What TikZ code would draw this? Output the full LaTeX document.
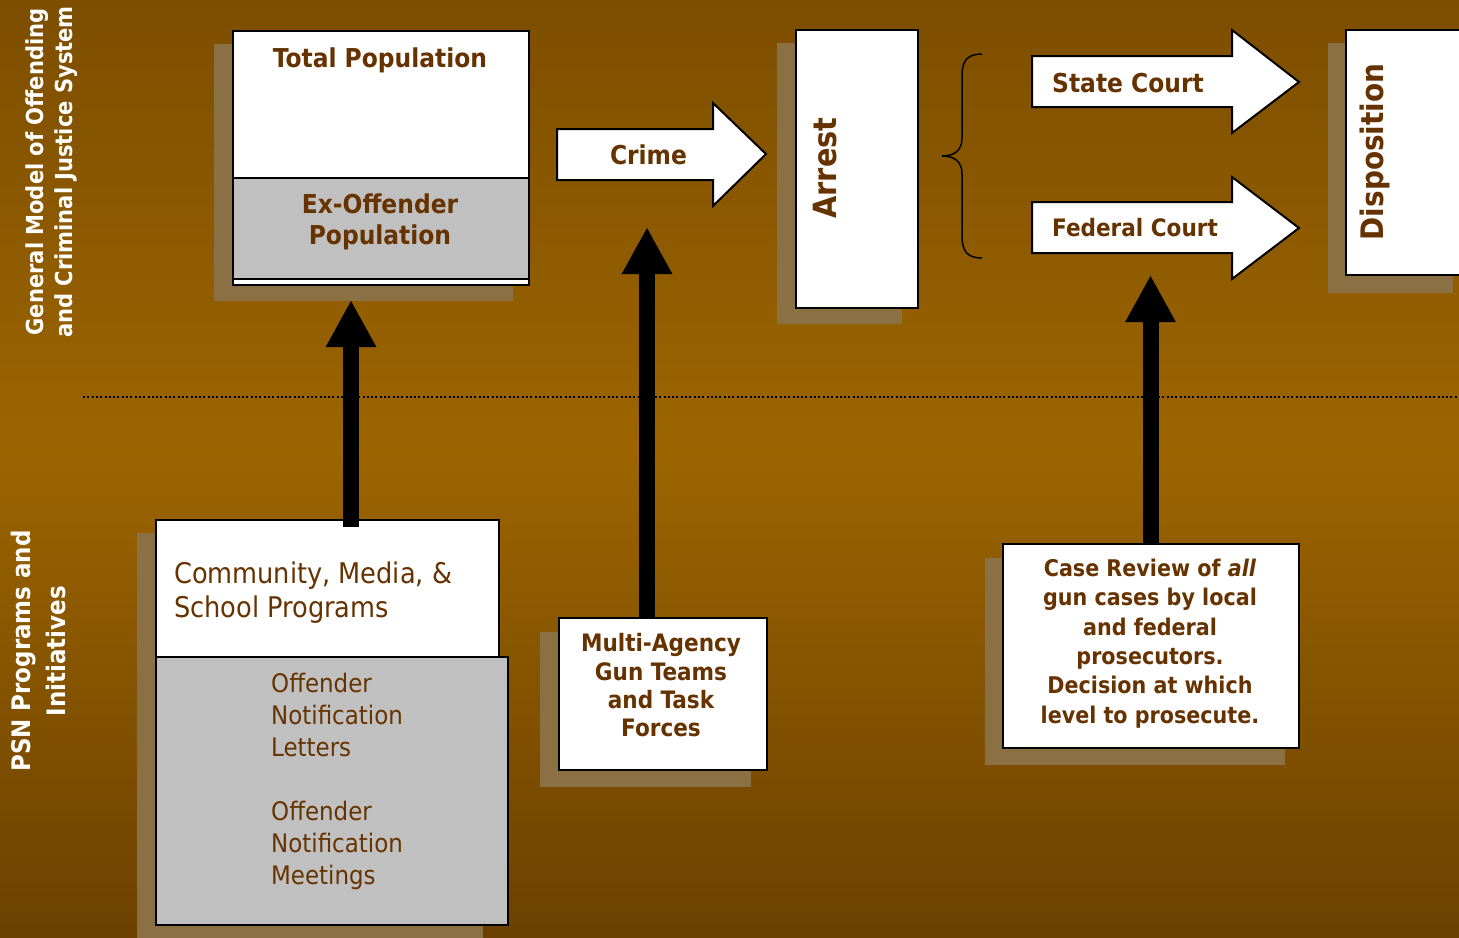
\documentclass[tikz,border=0pt]{standalone}
\usepackage{fontspec}
\setmainfont{DejaVu Sans Condensed}
\usetikzlibrary{arrows.meta}
\definecolor{txtc}{RGB}{102,51,0}
\definecolor{shadowc}{RGB}{138,112,66}
\definecolor{bgtop}{RGB}{125,78,0}
\definecolor{bgmid}{RGB}{156,101,0}
\definecolor{bgbot}{RGB}{108,65,0}
\definecolor{boxgray}{RGB}{192,192,192}
\begin{document}
\begin{tikzpicture}[x=1pt,y=-1pt,
  wbox/.style={draw=black,line width=2pt,fill=white,inner sep=0pt,anchor=north west},
  gbox/.style={draw=black,line width=2pt,fill=boxgray,inner sep=0pt,anchor=north west},
  blockarrow/.style={draw=black,line width=2pt,fill=white,line join=miter},
  txt/.style={text=txtc,inner sep=0pt},
  sidelbl/.style={text=white,inner sep=0pt,align=center,rotate=90},
  bigarrow/.style={line width=16pt,-{Triangle[width=47pt,length=47pt]}},
  dotline/.style={line width=2pt,dash pattern=on 2pt off 2.3pt},
]
\useasboundingbox (0,0) rectangle (1459,937);
\shade[top color=bgtop,bottom color=bgmid] (0,0) rectangle (1459,450);
\shade[top color=bgmid,bottom color=bgbot] (0,449.5) rectangle (1459,937);

% side labels
\node[sidelbl,font=\bfseries\fontsize{23.4}{29}\selectfont] (lab1) at (52,172) {General Model of Offending\\and Criminal Justice System};
\node[sidelbl,font=\bfseries\fontsize{25.5}{35}\selectfont] (lab2) at (38,651) {PSN Programs and\\Initiatives};

% dotted separator
\draw[dotline] (83,397) -- (1459,397);

% Total population
\fill[shadowc] (214,44) rectangle (513,301);
\node[wbox,minimum width=296pt,minimum height=254pt] (tp) at (232,30) {};
\node[gbox,minimum width=296pt,minimum height=101pt] (exo) at (232,177) {};
\node[txt,anchor=base,font=\bfseries\fontsize{26}{31}\selectfont] (tptxt) at (380,67) {Total Population};
\node[txt,align=center,font=\bfseries\fontsize{26}{31}\selectfont] (exotxt) at (380,221.7) {Ex-Offender\\Population};

% Crime arrow
\draw[blockarrow] (557,129) -- (713,129) -- (713,103) -- (766,154) -- (713,206) -- (713,180) -- (557,180) -- cycle;
\node[txt,anchor=base,font=\bfseries\fontsize{26}{31}\selectfont] (crime) at (648.5,164) {Crime};

% Arrest
\fill[shadowc] (777,43) rectangle (902,324);
\node[wbox,minimum width=122pt,minimum height=278pt] (arrest) at (795,29) {};
\node[txt,rotate=90,anchor=base,font=\bfseries\fontsize{32}{36}\selectfont] (arresttxt) at (836.5,168) {Arrest};

% Brace
\draw[line width=1.5pt] (982,54) .. controls (968,54) and (962,60) .. (962,76) -- (962,138) .. controls (962,150) and (955,156) .. (942,156) .. controls (955,156) and (962,162) .. (962,174) -- (962,236) .. controls (962,252) and (968,258) .. (982,258);

% Courts
\draw[blockarrow] (1032,56) -- (1232,56) -- (1232,30) -- (1299,82) -- (1232,133) -- (1232,107) -- (1032,107) -- cycle;
\node[txt,anchor=base west,font=\bfseries\fontsize{26}{31}\selectfont] (state) at (1052,92) {State Court};
\draw[blockarrow] (1032,202) -- (1232,202) -- (1232,177) -- (1299,228) -- (1232,279) -- (1232,253) -- (1032,253) -- cycle;
\node[txt,anchor=base west,font=\bfseries\fontsize{24}{29}\selectfont] (federal) at (1052,236) {Federal Court};

% Disposition
\fill[shadowc] (1328,43) rectangle (1453,293);
\node[wbox,minimum width=140pt,minimum height=245pt] (disp) at (1345,29) {};
\node[txt,rotate=90,anchor=base,font=\bfseries\fontsize{31}{36}\selectfont] (disptxt) at (1383,152) {Disposition};

% Community box
\fill[shadowc] (137,533) rectangle (483,945);
\node[wbox,minimum width=343pt,minimum height=137pt] (comm) at (155,519) {};
\node[gbox,minimum width=352pt,minimum height=268pt] (notif) at (155,656) {};
\node[txt,anchor=west,align=left,font=\fontsize{28.5}{34.5}\selectfont] (commtxt) at (174,592.8) {Community, Media, \&\\School Programs};
\node[txt,anchor=west,align=left,font=\fontsize{25.5}{32}\selectfont] (notiftxt) at (271,781) {Offender\\Notification\\Letters\\[32pt]Offender\\Notification\\Meetings};

% Multi-agency
\fill[shadowc] (540,632) rectangle (751,787);
\node[wbox,minimum width=208pt,minimum height=152pt] (multi) at (558,617) {};
\node[txt,align=center,font=\bfseries\fontsize{24}{28.3}\selectfont] (multitxt) at (661,685.3) {Multi-Agency\\Gun Teams\\and Task\\Forces};

% Case review
\fill[shadowc] (985,558) rectangle (1285,765);
\node[wbox,minimum width=296pt,minimum height=204pt] (case) at (1002,543) {};
\node[txt,align=center,font=\bfseries\fontsize{23}{29.4}\selectfont] (casetxt) at (1150,643.5) {Case Review of \textit{all}\\gun cases by local\\and federal\\prosecutors.\\Decision at which\\level to prosecute.};

% black arrows
\coordinate (a1from) at (351,527);
\coordinate (a1to) at (351,300);
\coordinate (a2from) at (647,617);
\coordinate (a2to) at (647,227);
\coordinate (a3from) at (1150.5,543);
\coordinate (a3to) at (1150.5,275);
\draw[bigarrow] (a1from) -- (a1to);
\draw[bigarrow] (a2from) -- (a2to);
\draw[bigarrow] (a3from) -- (a3to);
\end{tikzpicture}
\end{document}
